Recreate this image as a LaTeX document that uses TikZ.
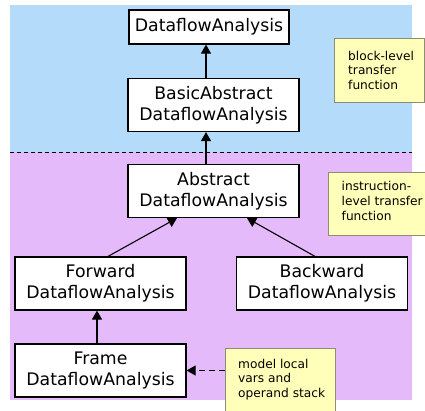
\documentclass[tikz,border=0pt]{standalone}
\usepackage{fontspec}
\setmainfont{DejaVu Sans}
\usetikzlibrary{arrows.meta}

\definecolor{blockbg}{RGB}{180,220,250}
\definecolor{instrbg}{RGB}{229,186,250}
\definecolor{noteyellow}{RGB}{255,255,185}
\definecolor{noteedge}{RGB}{140,140,120}

\begin{document}
\begin{tikzpicture}[x=1pt,y=-1pt,
  cls/.style={draw, fill=white, line width=1.2pt, align=center, inner sep=0pt,
    font=\fontsize{17.3}{21}\selectfont, minimum width=171pt, minimum height=53pt},
  note/.style={draw=noteedge, fill=noteyellow, line width=0.8pt, inner sep=0pt, anchor=north west},
  notetext/.style={anchor=north west, align=left, inner sep=0pt, font=\fontsize{12.2}{14.8}\selectfont},
  isa/.style={-{Triangle[width=10pt,length=9pt]}, line width=1.1pt}]
\useasboundingbox (0,0) rectangle (425,410);
\clip (0,0) rectangle (425,410);
% the two levels
\fill[blockbg] (10,5) rectangle (412,152);
\fill[instrbg] (10,152) rectangle (412,400);
\draw[line width=0.9pt, dash pattern=on 4pt off 3pt] (10,152) -- (412,152);
% class hierarchy
\node[cls, minimum width=160pt, minimum height=34pt] (base) at (209,27) {DataflowAnalysis};
\foreach \n/\x/\y/\t in {basic/213.5/105/BasicAbstract, abstr/213.5/191/Abstract,
    fwd/100.5/283.5/Forward, bwd/322/283.5/Backward, frame/100.5/370.5/Frame}
  {\node[cls] (\n) at (\x,\y) {\t\\DataflowAnalysis};}
\draw[isa] ([xshift=-3pt]basic.north -| base.south) -- ([xshift=-3pt]base.south);
\draw[isa] ([xshift=-3pt]abstr.north -| base.south) -- ([xshift=-3pt]basic.south -| base.south);
\draw[isa] ([xshift=7.5pt]fwd.north) -- ([xshift=-36.5pt]abstr.south);
\draw[isa] ([xshift=-7pt]bwd.north) -- ([xshift=33.5pt]abstr.south);
\draw[isa] ([xshift=-3.5pt]frame.north) -- ([xshift=-3.5pt]fwd.south);
% notes
\node[note, minimum width=90pt, minimum height=64pt] (blk) at (334,38) {};
\node[notetext] (blktext) at ([shift={(14pt,-12.7pt)}]blk.north west) {block-level\\transfer\\function};
\node[note, minimum width=110pt, minimum height=63pt] (ins) at (328,171.5) {};
\node[notetext] (instext) at ([shift={(13.5pt,-9.7pt)}]ins.north west) {instruction-\\level transfer\\function};
\node[note, minimum width=110pt, minimum height=70pt] (mdl) at (225,348) {};
\node[notetext] (mdltext) at ([shift={(13pt,-10.7pt)}]mdl.north west) {model local\\vars and\\operand stack};
\draw[isa, dash pattern=on 6pt off 4pt] (mdl.west |- frame.east) -- (frame.east);
\end{tikzpicture}
\end{document}
